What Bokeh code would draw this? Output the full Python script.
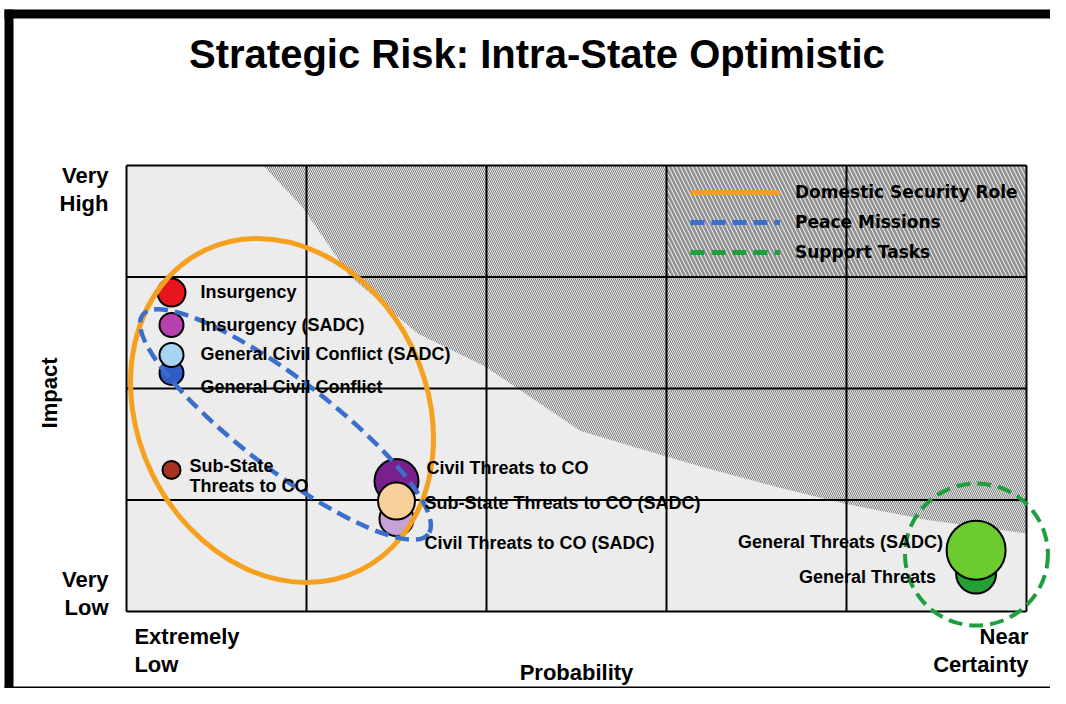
import math
from bokeh.plotting import figure
from bokeh.models import (ColumnDataSource, Legend, LegendItem, BoxAnnotation, Range1d)
from bokeh.core.properties import value
from bokeh.embed import file_html
from bokeh.resources import INLINE

# ---------------- data ----------------
title_text = "Strategic Risk: Intra-State Optimistic"
x_title = "Probability"
y_title = "Impact"
x_end_labels = ["Extremely\nLow", "Near\nCertainty"]
y_tick_pos = [0.16, 3.785]
y_tick_labels = ["Very\nLow", "Very\nHigh"]
n_cols = 5   # probability bands
n_rows = 4   # impact bands

risks = ["Insurgency", "Insurgency (SADC)", "General Civil Conflict",
         "General Civil Conflict (SADC)", "Sub-State\nThreats to CO",
         "Civil Threats to CO", "Civil Threats to CO (SADC)",
         "Sub-State Threats to CO (SADC)", "General Threats",
         "General Threats (SADC)"]
probability = [0.25, 0.25, 0.25, 0.25, 0.25, 1.5, 1.5, 1.5, 4.72, 4.72]
impact = [2.86, 2.57, 2.14, 2.30, 1.27, 1.17, 0.83, 0.99, 0.34, 0.55]
weight = [28, 24, 24, 24, 18, 44, 34, 37, 40, 59]

# risk frontier (boundary of the hatched zone)
frontier_x = [0.76, 0.98, 1.24, 1.62, 1.99, 2.21, 2.52, 2.98, 3.26, 3.63, 3.98, 4.45, 5.0]
frontier_y = [4.0, 3.62, 3.01, 2.49, 2.20, 1.96, 1.62, 1.40, 1.27, 1.11, 0.97, 0.82, 0.70]

groups = ["Domestic Security Role", "Peace Missions", "Support Tasks"]
group_cx = [0.864, 0.883, 4.722]
group_cy = [1.803, 1.677, 0.511]
group_w = [1.606, 2.0, 0.794]
group_h = [3.193, 0.807, 1.274]
group_angle = [0.452, -0.654, 0.0]

# ---------------- styles ----------------
point_colors = ["#e8161c", "#b83fae", "#2f5fc4", "#a8d4f2", "#a8321e",
                "#7a1f8e", "#c6a2d9", "#f8d09a", "#25a035", "#6ccb2e"]
label_dx = [29, 29, 29, 29, 18, 30, 28, 28, -40, -33]
label_dy = [-1, 0, 14, -1, 6, -13, 24, 2, 3, -8]
label_align = ["left"] * 8 + ["right"] * 2
group_colors = ["#f5a01e", "#3b6fcb", "#1f9e3e"]
group_dash = ["solid", "14 7", "14 7"]
group_width = [5, 4.5, 4]

SANS = "Liberation Sans"
W, H = 1050, 688

p = figure(width=W, height=H, x_range=Range1d(-0.7, 5.1333), y_range=Range1d(-0.6906, 5.4798),
           output_backend="svg", toolbar_location=None,
           x_axis_location=None, y_axis_location=None,
           min_border=0)
p.background_fill_color = "white"
p.border_fill_color = "white"
p.outline_line_color = None
p.xgrid.visible = False
p.ygrid.visible = False

# plot area background
p.quad(left=[0], right=[n_cols], bottom=[0], top=[n_rows],
       fill_color="#ececec", line_color=None, level="image")
# hatched high-risk zone
p.patch(x=frontier_x + [n_cols], y=frontier_y + [n_rows],
        fill_color="#ececec", line_color=None,
        hatch_pattern="\\", hatch_color="#7d7d7d", hatch_scale=4, hatch_weight=1,
        level="image")
# legend cells (coarser hatch)
p.quad(left=[n_cols - 2], right=[n_cols], bottom=[n_rows - 1], top=[n_rows],
       fill_color="#ececec", line_color=None,
       hatch_pattern="\\", hatch_color="#8f8f8f", hatch_scale=8, hatch_weight=2.5,
       level="image")

# grid lines and frame
cols = list(range(n_cols + 1))
rows = list(range(n_rows + 1))
p.segment(x0=cols, x1=cols, y0=[0] * len(cols), y1=[n_rows] * len(cols),
          line_color="black", line_width=2, level="underlay")
p.segment(x0=[0] * len(rows), x1=[n_cols] * len(rows), y0=rows, y1=rows,
          line_color="black", line_width=2, level="underlay")

# bubbles
src = ColumnDataSource(dict(x=probability, y=impact, size=weight, color=point_colors))
p.scatter(x="x", y="y", size="size", fill_color="color", line_color="black",
          line_width=2, source=src)

# group ellipses + legend entries
legend_items = []
for i, gname in enumerate(groups):
    p.ellipse(x=[group_cx[i]], y=[group_cy[i]], width=[group_w[i]], height=[group_h[i]],
              angle=[group_angle[i]], fill_color=None, line_color=group_colors[i],
              line_width=group_width[i], line_dash=group_dash[i])
    r = p.line(x=[math.nan], y=[math.nan], line_color=group_colors[i], line_width=5,
               line_dash=group_dash[i])
    legend_items.append(LegendItem(label=gname, renderers=[r]))

# point labels
for al in ("left", "right"):
    idx = [i for i, a in enumerate(label_align) if a == al]
    s = ColumnDataSource(dict(x=[probability[i] for i in idx], y=[impact[i] for i in idx],
                              t=[risks[i] for i in idx], dx=[label_dx[i] for i in idx],
                              dy=[label_dy[i] for i in idx]))
    p.text(x="x", y="y", text="t", x_offset="dx", y_offset="dy", source=s,
           text_font=value(SANS), text_font_style="bold", text_font_size="18px",
           text_color="black", text_align=al, text_baseline="middle",
           text_line_height=1.0)

bold22 = dict(text_font=value(SANS), text_font_style="bold", text_font_size="22px",
              text_color="black", text_line_height=1.1)
# title
p.text(x=[2.28], y=[4.996], text=[title_text], text_align="center",
       text_baseline="middle", text_font=value(SANS), text_font_style="bold",
       text_font_size="40px", text_color="black")
# impact tick labels
p.text(x=[-0.1] * len(y_tick_pos), y=y_tick_pos, text=y_tick_labels,
       text_align="right", text_baseline="middle", **bold22)
# impact axis title
p.text(x=[-0.428], y=[1.96], text=[y_title], angle=math.pi / 2,
       text_align="center", text_baseline="middle", **bold22)
# probability end labels
p.text(x=[0.044], y=[-0.35], text=[x_end_labels[0]], text_align="left",
       text_baseline="middle", **bold22)
p.text(x=[5.011], y=[-0.35], text=[x_end_labels[1]], text_align="right",
       text_baseline="middle", **bold22)
# probability axis title
p.text(x=[n_cols / 2], y=[-0.547], text=[x_title], text_align="center",
       text_baseline="middle", **bold22)

legend = Legend(items=legend_items, location=(690, 426))
legend.background_fill_alpha = 0
legend.border_line_alpha = 0
legend.label_text_font = "DejaVu Sans"
legend.label_text_font_style = "bold"
legend.label_text_font_size = "17px"
legend.label_text_color = "black"
legend.glyph_width = 90
legend.glyph_height = 20
legend.label_height = 20
legend.label_standoff = 15
legend.spacing = 10
legend.padding = 0
legend.margin = 0
p.add_layout(legend)

# outer black frame of the slide
for l, r_, t, b in [(4, 13, 9, H), (4, W, 9, 18), (4, W, 686, H)]:
    p.add_layout(BoxAnnotation(left=l, right=r_, top=t, bottom=b,
                               left_units="canvas", right_units="canvas",
                               top_units="canvas", bottom_units="canvas",
                               fill_color="black", fill_alpha=1, line_color=None,
                               level="overlay"))

open("out.html", "w").write(file_html(p, INLINE))
